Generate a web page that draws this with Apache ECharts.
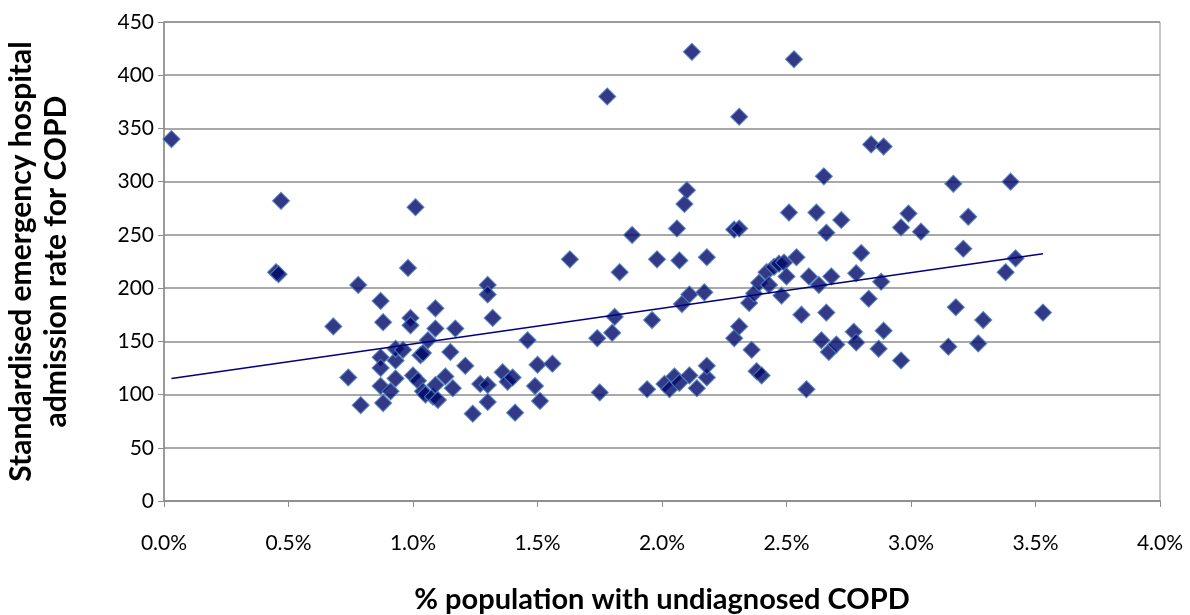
<!DOCTYPE html>
<html>
<head>
<meta charset="utf-8">
<title>Undiagnosed COPD vs emergency admissions</title>
<script src="https://cdn.jsdelivr.net/npm/echarts@6/dist/echarts.min.js"></script>
<style>
  html, body { margin: 0; padding: 0; background: #ffffff; }
  #chart { width: 1190px; height: 615px; }
</style>
</head>
<body>
<div id="chart"></div>
<script>
// % of population with undiagnosed COPD, one entry per area
const undiagnosedPct = [
  0.03, 0.45, 0.46, 0.47, 0.68, 0.74, 0.78, 0.79, 0.87, 0.87,
  0.87, 0.88, 0.87, 0.88, 0.91, 0.93, 0.93, 0.93, 0.96, 0.98,
  0.99, 0.99, 1.01, 1.00, 1.02, 1.03, 1.04, 1.04, 1.05, 1.06,
  1.08, 1.09, 1.09, 1.09, 1.10, 1.13, 1.15, 1.16, 1.17, 1.21,
  1.24, 1.27, 1.30, 1.30, 1.30, 1.30, 1.32, 1.36, 1.38, 1.40,
  1.41, 1.46, 1.49, 1.50, 1.51, 1.56, 1.63, 1.74, 1.75, 1.78,
  1.80, 1.81, 1.83, 1.88, 1.94, 1.96, 1.98, 2.01, 2.03, 2.05,
  2.06, 2.07, 2.07, 2.08, 2.09, 2.10, 2.11, 2.11, 2.12, 2.14,
  2.17, 2.18, 2.18, 2.18, 2.29, 2.29, 2.31, 2.31, 2.31, 2.35,
  2.36, 2.37, 2.38, 2.40, 2.39, 2.42, 2.43, 2.45, 2.47, 2.48,
  2.49, 2.50, 2.51, 2.53, 2.54, 2.56, 2.58, 2.59, 2.62, 2.63,
  2.64, 2.65, 2.66, 2.66, 2.67, 2.68, 2.70, 2.72, 2.77, 2.78,
  2.78, 2.80, 2.83, 2.84, 2.87, 2.88, 2.89, 2.89, 2.96, 2.96,
  2.99, 3.04, 3.15, 3.17, 3.18, 3.21, 3.23, 3.27, 3.29, 3.38,
  3.40, 3.42, 3.53
];

// Standardised emergency hospital admission rate for COPD, same order
const admissionRate = [
  340, 215, 213, 282, 164, 116, 203, 90, 188, 135,
  108, 168, 125, 92, 103, 132, 143, 115, 142, 219,
  172, 165, 276, 118, 113, 137, 139, 103, 100, 151,
  98, 181, 162, 109, 95, 117, 140, 106, 162, 127,
  82, 110, 109, 93, 203, 194, 172, 121, 112, 116,
  83, 151, 108, 128, 94, 129, 227, 153, 102, 380,
  158, 173, 215, 250, 105, 170, 227, 110, 105, 117,
  256, 226, 111, 185, 279, 292, 194, 118, 422, 106,
  196, 116, 127, 229, 255, 153, 256, 164, 361, 186,
  142, 195, 122, 118, 205, 215, 203, 220, 223, 193,
  224, 211, 271, 415, 229, 175, 105, 211, 271, 203,
  151, 305, 177, 252, 140, 211, 147, 264, 159, 149,
  214, 233, 190, 335, 143, 206, 333, 160, 132, 257,
  270, 253, 145, 298, 182, 237, 267, 148, 170, 215,
  300, 228, 177
];

// Linear trend fitted to the areas (rate = intercept + slope * pct)
const trendSlope = 33.5;
const trendIntercept = 114;

// Axis ticks
const xTicks = [0, 0.5, 1, 1.5, 2, 2.5, 3, 3.5, 4];
const yTicks = [0, 50, 100, 150, 200, 250, 300, 350, 400, 450];

const points = undiagnosedPct.map((x, i) => [x, admissionRate[i]]);
const xMin = Math.min(...undiagnosedPct);
const xMax = Math.max(...undiagnosedPct);
const trendLine = [xMin, xMax].map(x => [x, trendIntercept + trendSlope * x]);

const gridGrey = '#8c8c8c';
const textFont = 'Lato, "Open Sans", sans-serif';

const chart = echarts.init(document.getElementById('chart'), null, { renderer: 'canvas' });

chart.setOption({
  animation: false,
  backgroundColor: '#ffffff',
  grid: {
    left: 164, right: 30, top: 22, bottom: 114,
    outerBoundsMode: 'none',
    containLabel: false,
    show: true, borderColor: gridGrey, borderWidth: 1, backgroundColor: 'transparent'
  },
  xAxis: {
    type: 'value',
    min: xTicks[0],
    max: xTicks[xTicks.length - 1],
    interval: xTicks[1] - xTicks[0],
    name: '% population with undiagnosed COPD',
    nameLocation: 'middle',
    nameGap: 84,
    nameTextStyle: { fontFamily: textFont, fontWeight: 'bold', fontSize: 29, color: '#000' },
    axisLine: { show: true, lineStyle: { color: gridGrey, width: 1.5 } },
    axisTick: { show: true, inside: false, length: 6, lineStyle: { color: gridGrey } },
    axisLabel: {
      margin: 32,
      fontFamily: textFont, fontSize: 21, color: '#000',
      formatter: v => v.toFixed(1) + '%'
    },
    splitLine: { show: false }
  },
  yAxis: {
    type: 'value',
    min: yTicks[0],
    max: yTicks[yTicks.length - 1],
    interval: yTicks[1] - yTicks[0],
    name: 'Standardised emergency hospital\nadmission rate for COPD',
    nameLocation: 'middle',
    nameGap: 90,
    nameRotate: 90,
    nameTextStyle: {
      fontFamily: textFont, fontWeight: 'bold', fontSize: 30, color: '#000',
      lineHeight: 35, align: 'center'
    },
    axisLine: { show: true, lineStyle: { color: gridGrey, width: 1.5 } },
    axisTick: { show: true, inside: false, length: 6, lineStyle: { color: gridGrey } },
    axisLabel: { margin: 10, fontFamily: textFont, fontSize: 21, color: '#000' },
    splitLine: { show: true, lineStyle: { color: gridGrey, width: 1.5 } }
  },
  series: [
    {
      type: 'scatter',
      data: points,
      symbol: 'diamond',
      symbolSize: 17,
      itemStyle: { color: '#000868', borderColor: '#4f81bd', borderWidth: 1.2 },
      z: 3
    },
    {
      type: 'line',
      data: trendLine,
      symbol: 'none',
      lineStyle: { color: '#000080', width: 1.5 },
      z: 4
    }
  ]
});
</script>
</body>
</html>
